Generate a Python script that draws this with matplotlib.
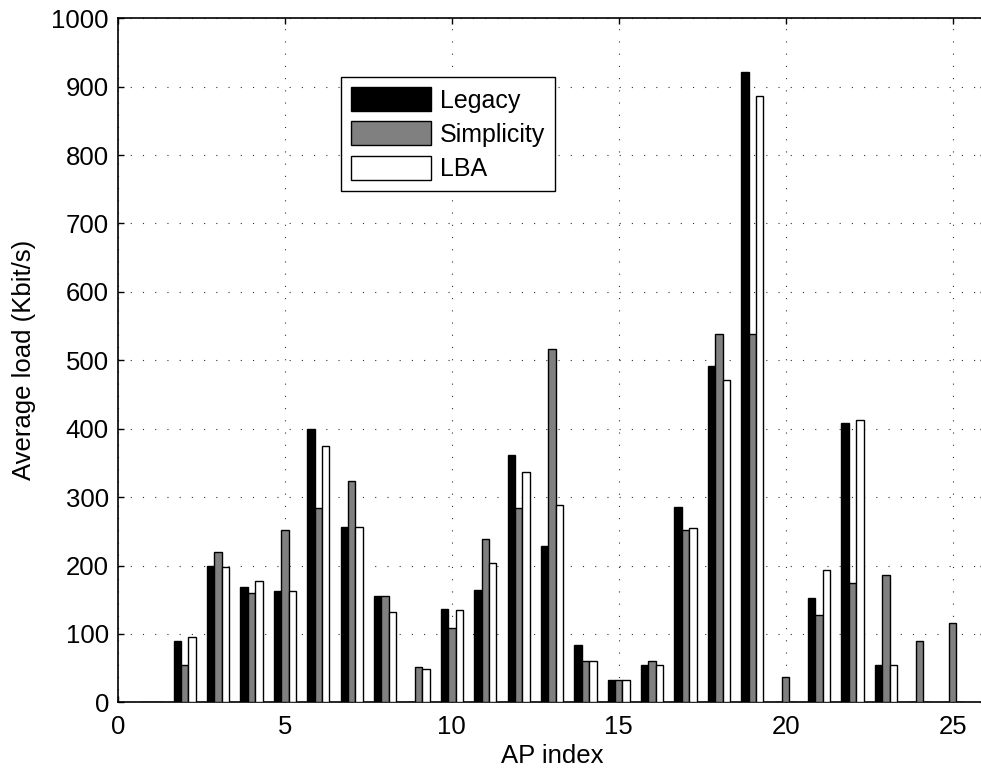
import numpy as np
import matplotlib
matplotlib.use('Agg')
import matplotlib.pyplot as plt

plt.rcParams['font.family'] = ['Liberation Sans', 'DejaVu Sans']

# average load per access point, Kbit/s
ap_index = list(range(1, 26))
legacy = [0, 90, 200, 169, 163, 400, 257, 156, 0, 136, 164, 362, 228,
          84, 32, 55, 286, 491, 921, 0, 153, 409, 55, 0, 0]
simplicity = [0, 54, 220, 160, 252, 284, 324, 156, 52, 109, 239, 284, 516,
              61, 32, 60, 252, 538, 538, 37, 127, 174, 186, 90, 116]
lba = [0, 96, 198, 177, 162, 375, 257, 132, 49, 135, 203, 337, 288,
       61, 32, 55, 255, 471, 887, 0, 194, 413, 54, 0, 0]
series_names = ['Legacy', 'Simplicity', 'LBA']


def grouped_bars():
    fig = plt.figure(figsize=(9.81, 7.75), dpi=100)
    ax = fig.add_axes([0.1203, 0.0938, 0.8848, 0.8826])

    x = np.array(ap_index)
    w = 0.222
    ax.bar(x - w, legacy, w, color='black', edgecolor='black', linewidth=1.0,
           label=series_names[0], zorder=3)
    ax.bar(x, simplicity, w, color='#808080', edgecolor='black', linewidth=1.0,
           label=series_names[1], zorder=3)
    ax.bar(x + w, lba, w, color='white', edgecolor='black', linewidth=1.0,
           label=series_names[2], zorder=3)

    ax.set_xlim(0, 26)
    ax.set_ylim(0, 1000)
    ax.set_xticks([0, 5, 10, 15, 20, 25])
    ax.set_yticks(range(0, 1001, 100))
    ax.tick_params(axis='both', direction='in', length=4, width=1.0,
                   top=True, right=True, labelsize=18.5)
    ax.tick_params(axis='y', pad=6.5)
    ax.tick_params(axis='x', pad=9)
    for s in ax.spines.values():
        s.set_linewidth(1.2)

    ax.grid(True, color='#333333', linestyle=(0, (1, 10)), linewidth=0.8, zorder=0)
    ax.set_axisbelow(True)

    ax.set_xlabel('AP index', fontsize=18.5, labelpad=4)
    ax.set_ylabel('Average load (Kbit/s)', fontsize=18.5, labelpad=11)

    leg = ax.legend(loc='upper left', bbox_to_anchor=(0.257, 0.914),
                    borderaxespad=0, fontsize=18, fancybox=False,
                    edgecolor='black', framealpha=1, handlelength=3.2,
                    handleheight=1.1, labelspacing=0.35, handletextpad=0.35,
                    borderpad=0.4)
    leg.get_frame().set_linewidth(1.0)

    fig.savefig('out.png', dpi=100)


if __name__ == '__main__':
    grouped_bars()
